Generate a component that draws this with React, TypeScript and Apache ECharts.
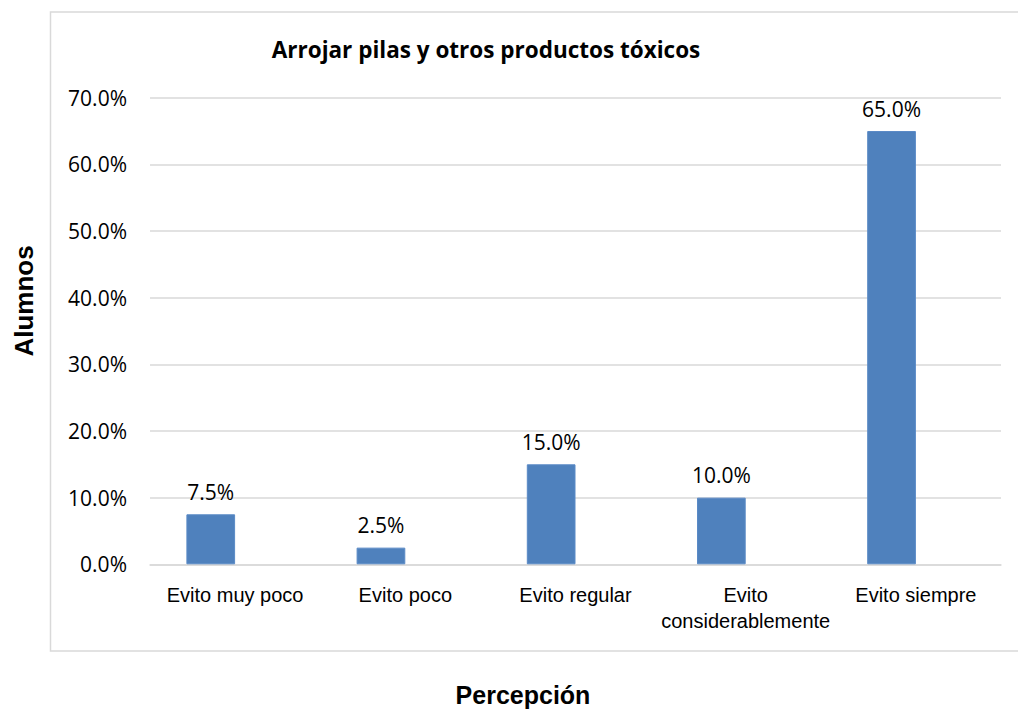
import React, { useEffect, useRef } from "react";
import * as echarts from "echarts";

const categories = [
  "Evito muy poco",
  "Evito poco",
  "Evito regular",
  "Evito\nconsiderablemente",
  "Evito siempre",
];
const values = [7.5, 2.5, 15.0, 10.0, 65.0];
const emptyValues = [null, null, null, null, null];
const yTicks = { min: 0, max: 70, interval: 10 };
const titleText = "Arrojar pilas y otros productos tóxicos";
const yTitle = "Alumnos";
const xTitle = "Percepción";

export default function App() {
  const ref = useRef<HTMLDivElement>(null);
  useEffect(() => {
    document.body.style.margin = "0";
    const chart = echarts.init(ref.current!, null, { renderer: "svg" });
    chart.setOption({
      animation: false,
      backgroundColor: "#ffffff",
      title: {
        text: titleText,
        left: 481,
        top: 33,
        textAlign: "center",
        textStyle: {
          fontFamily: "Open Sans",
          fontWeight: "bold",
          fontSize: 22.5,
          color: "#000000",
        },
      },
      grid: { left: 150, right: 17, top: 97.7, bottom: 146.7, containLabel: false },
      xAxis: {
        type: "category",
        data: categories,
        axisLine: { show: true, lineStyle: { color: "#d9d9d9", width: 1.5 } },
        axisTick: { show: false },
        axisLabel: {
          fontFamily: "Liberation Sans",
          fontSize: 20,
          lineHeight: 26,
          color: "#000000",
          margin: 18,
          interval: 0,
        },
      },
      yAxis: {
        type: "value",
        min: yTicks.min,
        max: yTicks.max,
        interval: yTicks.interval,
        axisLine: { show: false },
        axisTick: { show: false },
        splitLine: { lineStyle: { color: "#d9d9d9", width: 1.5 } },
        axisLabel: {
          fontFamily: "Open Sans",
          fontSize: 21,
          color: "#000000",
          margin: 23,
          formatter: (v: number) => v.toFixed(1) + "%",
        },
      },
      series: [
        {
          type: "bar",
          data: values,
          barWidth: 48.7,
          barGap: "0%",
          itemStyle: { color: "#4f81bd", borderColor: "#5a8ac6", borderWidth: 1 },
          label: {
            show: true,
            position: "top",
            distance: 12,
            fontFamily: "Open Sans",
            fontSize: 21,
            color: "#000000",
            formatter: (p: any) => Number(p.value).toFixed(1) + "%",
          },
        },
        {
          type: "bar",
          data: emptyValues,
          barWidth: 48.7,
          barGap: "0%",
          itemStyle: { color: "transparent" },
        },
      ],
      graphic: [
        {
          type: "rect",
          z: -10,
          silent: true,
          shape: { x: 50.5, y: 12, width: 1000, height: 639 },
          style: { fill: "none", stroke: "#d9d9d9", lineWidth: 1.5 },
        },
        {
          type: "text",
          x: 24,
          y: 301,
          rotation: Math.PI / 2,
          style: {
            text: yTitle,
            fontFamily: "Liberation Sans",
            fontWeight: "bold",
            fontSize: 26,
            fill: "#000000",
            align: "center",
            verticalAlign: "middle",
          },
        },
        {
          type: "text",
          x: 523,
          y: 695,
          style: {
            text: xTitle,
            fontFamily: "Liberation Sans",
            fontWeight: "bold",
            fontSize: 25,
            fill: "#000000",
            align: "center",
            verticalAlign: "middle",
          },
        },
      ],
    });
    return () => chart.dispose();
  }, []);
  return (
    <div
      ref={ref}
      style={{ position: "absolute", left: 0, top: 0, width: 1018, height: 711 }}
    />
  );
}
